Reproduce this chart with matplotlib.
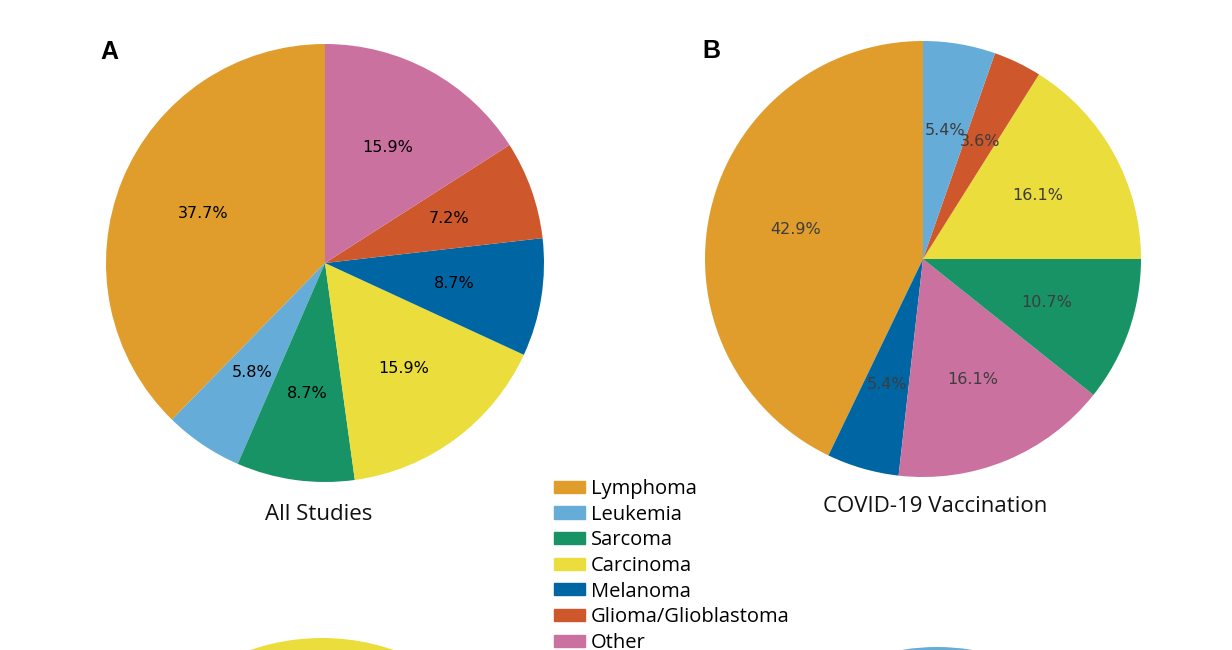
import matplotlib
matplotlib.use("Agg")
import matplotlib.pyplot as plt
from matplotlib.patches import Patch

# ---------------- data ----------------
categories = ["Lymphoma", "Leukemia", "Sarcoma", "Carcinoma", "Melanoma",
              "Glioma/Glioblastoma", "Other"]
colors = {"Lymphoma": "#E09D2B", "Leukemia": "#65ACD8", "Sarcoma": "#179366",
          "Carcinoma": "#EADD3C", "Melanoma": "#0066A3",
          "Glioma/Glioblastoma": "#CE572B", "Other": "#CA71A0"}

# Panel A: All Studies (counts, n = 69)
a_labels = ["Lymphoma", "Leukemia", "Sarcoma", "Carcinoma", "Melanoma",
            "Glioma/Glioblastoma", "Other"]
a_values = [26, 4, 6, 11, 6, 5, 11]

# Panel B: COVID-19 Vaccination (counts, n = 56)
b_labels = ["Lymphoma", "Melanoma", "Other", "Sarcoma", "Carcinoma",
            "Glioma/Glioblastoma", "Leukemia"]
b_values = [24, 3, 9, 6, 9, 2, 3]

# Panels below (only their top edge is visible; values estimated)
c_labels = ["Lymphoma", "Leukemia", "Sarcoma", "Carcinoma", "Melanoma",
            "Glioma/Glioblastoma", "Other"]
c_values = [30, 10, 10, 30, 5, 5, 10]
d_labels = ["Lymphoma", "Leukemia", "Sarcoma", "Carcinoma", "Melanoma",
            "Glioma/Glioblastoma", "Other"]
d_values = [40, 10, 10, 10, 10, 10, 10]

titles = ["All Studies", "COVID-19 Vaccination"]
panel_letters = ["A", "B"]

# ---------------- layout ----------------
W, H = 1232, 650
fig = plt.figure(figsize=(W / 100, H / 100), dpi=100)
fig.patch.set_facecolor("white")


def pie_axes(cx, cy, r):
    """cx, cy in pixels from top-left; r radius in pixels"""
    ax = fig.add_axes([(cx - r) / W, (H - cy - r) / H, 2 * r / W, 2 * r / H])
    return ax


def draw_pie(ax, labels, values, startangle, txtcolor, autopct=True):
    kw = {}
    if autopct:
        kw = dict(autopct="%1.1f%%", pctdistance=0.6,
                  textprops=dict(color=txtcolor, fontsize=11.5,
                                 family="DejaVu Sans"))
    ax.pie(values, colors=[colors[l] for l in labels], startangle=startangle,
           counterclock=True, radius=1.0, **kw)
    ax.set_xlim(-1, 1)
    ax.set_ylim(-1, 1)
    ax.set_aspect("equal")
    ax.axis("off")


axA = pie_axes(325, 263, 219)
draw_pie(axA, a_labels, a_values, 90, "black")

axB = pie_axes(923, 259, 218)
draw_pie(axB, b_labels, b_values, 90, "#3d3d3d")

axC = pie_axes(322, 858, 220)
draw_pie(axC, c_labels, c_values, -144, "black", autopct=False)

axD = pie_axes(937, 865, 218)
draw_pie(axD, d_labels, d_values, -72, "black", autopct=False)

# titles
fig.text(319 / W, (H - 520) / H, titles[0], ha="center", va="baseline",
         fontsize=16, family="Open Sans", color="#111111")
fig.text(935 / W, (H - 512) / H, titles[1], ha="center", va="baseline",
         fontsize=16, family="Open Sans", color="#111111")

# panel letters
fig.text(100 / W, (H - 59) / H, panel_letters[0], ha="left", va="baseline",
         fontsize=18, fontweight="bold", family="Liberation Sans")
fig.text(702 / W, (H - 58) / H, panel_letters[1], ha="left", va="baseline",
         fontsize=18, fontweight="bold", family="Liberation Sans")

# legend
handles = [Patch(facecolor=colors[c], edgecolor=colors[c], label=c)
           for c in categories]
fs = 14.5
fig.legend(handles=handles, loc="upper left",
           bbox_to_anchor=(554 / W, (H - 479) / H),
           frameon=False, borderaxespad=0, borderpad=0,
           prop=dict(family="Open Sans", size=fs),
           handlelength=1.54, handleheight=0.55, handletextpad=0.3,
           labelspacing=0.28)

fig.savefig("out.png", dpi=100, facecolor="white")
